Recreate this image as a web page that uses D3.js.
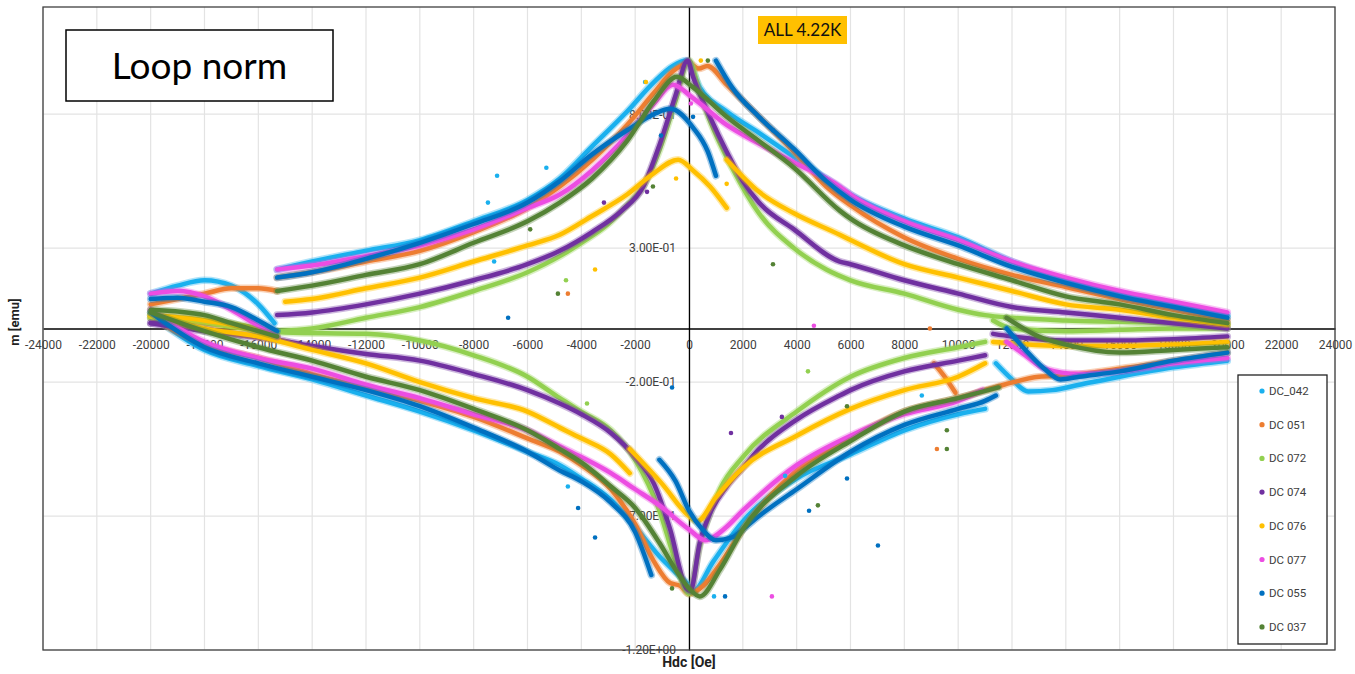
<!DOCTYPE html>
<html><head><meta charset="utf-8">
<script src="https://cdn.jsdelivr.net/npm/d3@7"></script>
<style>body{margin:0;background:#fff}svg{display:block}</style>
</head><body>
<svg id="chart" width="1355" height="674"></svg>
<script>
// ---------- data ----------
const xTickValues = [-24000,-22000,-20000,-18000,-16000,-14000,-12000,-10000,-8000,-6000,-4000,-2000,0,2000,4000,6000,8000,10000,12000,14000,16000,18000,20000,22000,24000];
const xTickLabels = ["-24000","-22000","-20000","-18000","-16000","-14000","-12000","-10000","-8000","-6000","-4000","-2000","0","2000","4000","6000","8000","10000","12000","14000","16000","18000","20000","22000","24000"];
const yTickValues = [0.8, 0.3, -0.2, -0.7, -1.2];
const yTickLabels = ["8.00E-01","3.00E-01","-2.00E-01","-7.00E-01","-1.20E+00"];
const seriesNames = ["DC_042","DC 051","DC 072","DC 074","DC 076","DC 077","DC 055","DC 037"];

// each series: list of measured segments, [Hdc (Oe), m (emu)]
const DC_042 = [
  [[-20000,0.13],[-19000,0.16],[-18000,0.18],[-17000,0.16],[-16000,0.09],[-15400,0.02]],
  [[-15300,0.22],[-14000,0.25],[-12000,0.29],[-10000,0.33],[-8000,0.40],[-6000,0.48],[-4800,0.56],[-3600,0.68],[-2300,0.81],[-1300,0.92],[-600,0.98],[-100,1.0],[400,0.90],[1400,0.81],[2600,0.73],[3900,0.64],[5100,0.56],[6000,0.50],[8000,0.41],[10000,0.34],[12000,0.25],[14000,0.18],[16000,0.13],[18000,0.09],[20000,0.05]],
  [[-20000,0.05],[-18000,-0.08],[-16000,-0.14],[-14000,-0.19],[-12000,-0.25],[-10000,-0.31],[-8000,-0.38],[-6000,-0.46],[-4800,-0.51],[-4000,-0.56],[-2900,-0.64],[-2000,-0.74],[-1100,-0.85],[-500,-0.91],[0,-0.96],[150,-0.98],[900,-0.87],[2000,-0.72],[4000,-0.56],[6000,-0.47],[8000,-0.38],[10000,-0.32],[11000,-0.30]],
  [[11400,-0.13],[12000,-0.19],[12600,-0.235],[13500,-0.23],[14500,-0.21],[16000,-0.18],[18000,-0.145],[20000,-0.12]]
];
const DC_051 = [
  [[-20000,0.09],[-19000,0.11],[-18000,0.13],[-17000,0.15],[-16000,0.15],[-15300,0.14]],
  [[-15300,0.19],[-14000,0.21],[-12000,0.25],[-10000,0.29],[-8000,0.36],[-6000,0.45],[-4800,0.53],[-3600,0.63],[-2300,0.76],[-1300,0.88],[-600,0.96],[0,0.99],[370,0.97],[680,0.98],[1400,0.91],[2600,0.79],[3900,0.66],[5100,0.53],[6000,0.46],[8000,0.34],[10000,0.26],[12000,0.20],[14000,0.155],[16000,0.11],[18000,0.07],[20000,0.03]],
  [[-20000,0.04],[-18000,-0.06],[-16000,-0.11],[-14000,-0.17],[-12000,-0.22],[-10000,-0.27],[-8000,-0.33],[-6000,-0.41],[-4800,-0.46],[-4000,-0.51],[-2900,-0.60],[-2000,-0.73],[-1300,-0.87],[-700,-0.95],[-330,-0.96],[0,-0.99],[530,-0.96],[1150,-0.88],[2000,-0.75],[4000,-0.53],[6000,-0.41],[8000,-0.31],[10000,-0.26],[11700,-0.21],[13000,-0.18],[14000,-0.175],[16000,-0.15],[18000,-0.12],[20000,-0.09]],
  [[9100,-0.13],[9500,-0.18],[9900,-0.24]]
];
const DC_072 = [
  [[-20000,0.04],[-18000,0.03],[-16500,0.01],[-15400,-0.01]],
  [[-15400,-0.01],[-14000,0.0],[-12000,0.04],[-10000,0.08],[-8000,0.14],[-6000,0.21],[-4800,0.27],[-4000,0.32],[-3000,0.39],[-2300,0.46],[-1700,0.53],[-1080,0.67],[-500,0.85],[0,1.0],[400,0.88],[800,0.77],[1600,0.60],[2600,0.43],[3900,0.30],[5100,0.22],[6000,0.18],[8000,0.13],[10000,0.07],[11000,0.05],[12000,0.04],[14000,0.03],[16000,0.025],[18000,0.02],[20000,0.01]],
  [[-20000,0.04],[-18000,0.02],[-16500,0.0],[-15000,-0.015],[-12000,-0.02],[-10000,-0.045],[-8000,-0.10],[-6000,-0.18],[-4800,-0.26],[-4000,-0.31],[-2900,-0.38],[-2000,-0.49],[-1100,-0.68],[-500,-0.87],[0,-0.99],[400,-0.81],[1150,-0.60],[2000,-0.48],[4000,-0.31],[6000,-0.18],[8000,-0.11],[10000,-0.07],[11000,-0.05]],
  [[11300,0.03],[12000,0.0],[14000,-0.01],[16000,-0.005],[18000,0.0],[20000,0.0]]
];
const DC_074 = [
  [[-20000,0.02],[-18000,0.0],[-17000,-0.02],[-15400,-0.04]],
  [[-15300,0.05],[-14000,0.06],[-12000,0.09],[-10000,0.13],[-8000,0.18],[-6000,0.24],[-4800,0.29],[-3600,0.36],[-2500,0.44],[-1700,0.53],[-1080,0.69],[-500,0.87],[-50,1.0],[150,0.94],[780,0.79],[1400,0.66],[2000,0.55],[2600,0.47],[3900,0.37],[5600,0.25],[6000,0.24],[8000,0.18],[10000,0.13],[12000,0.08],[14000,0.06],[16000,0.04],[18000,0.02],[20000,0.0]],
  [[-20000,0.02],[-18000,-0.01],[-16000,-0.03],[-14000,-0.065],[-12000,-0.095],[-10000,-0.12],[-8000,-0.17],[-6000,-0.23],[-4800,-0.28],[-4000,-0.32],[-2900,-0.39],[-2000,-0.48],[-1300,-0.58],[-700,-0.75],[-100,-0.97],[50,-0.98],[400,-0.80],[780,-0.69],[1400,-0.59],[2000,-0.52],[2600,-0.45],[4000,-0.34],[5600,-0.25],[6000,-0.23],[8000,-0.16],[10000,-0.12],[11000,-0.10]],
  [[11300,-0.02],[12000,-0.03],[14000,-0.045],[16000,-0.045],[18000,-0.04],[20000,-0.03]]
];
const DC_076 = [
  [[-20000,0.05],[-18000,0.03],[-16000,-0.01],[-15300,-0.04]],
  [[-15000,0.10],[-14000,0.11],[-12000,0.15],[-10000,0.19],[-8000,0.25],[-6000,0.31],[-4800,0.35],[-3600,0.42],[-2300,0.50],[-1300,0.58],[-400,0.63],[150,0.59],[780,0.53],[1400,0.45]],
  [[1400,0.63],[2600,0.51],[3900,0.43],[5600,0.35],[6000,0.33],[8000,0.24],[10000,0.19],[12000,0.14],[14000,0.09],[16000,0.07],[18000,0.04],[20000,0.015]],
  [[-20000,0.05],[-18000,0.0],[-16000,-0.03],[-14000,-0.08],[-12000,-0.13],[-10000,-0.20],[-8000,-0.26],[-6000,-0.31],[-4800,-0.37],[-4000,-0.41],[-2900,-0.47],[-2200,-0.54]],
  [[-2200,-0.45],[-1000,-0.58],[0,-0.70],[300,-0.72],[1000,-0.63],[2000,-0.52],[4000,-0.40],[6000,-0.30],[8000,-0.23],[10000,-0.18],[11000,-0.13]],
  [[11300,-0.05],[12000,-0.055],[14000,-0.065],[16000,-0.065],[18000,-0.06],[20000,-0.05]]
];
const DC_077 = [
  [[-20000,0.13],[-19000,0.14],[-18000,0.12],[-17000,0.07],[-16000,0.01],[-15300,-0.03]],
  [[-15300,0.22],[-14000,0.235],[-12000,0.27],[-10000,0.31],[-8000,0.37],[-6000,0.45],[-4800,0.50],[-3600,0.59],[-2300,0.72],[-1300,0.84],[-600,0.91],[150,0.86],[1400,0.76],[2600,0.69],[3900,0.62],[5600,0.53],[6000,0.50],[8000,0.40],[10000,0.33],[12000,0.25],[14000,0.19],[16000,0.14],[18000,0.10],[20000,0.06]],
  [[-20000,0.07],[-18000,-0.05],[-16000,-0.11],[-14000,-0.15],[-12000,-0.21],[-10000,-0.26],[-8000,-0.32],[-6000,-0.38],[-4800,-0.44],[-4000,-0.48],[-2900,-0.54],[-2000,-0.60],[-1100,-0.66],[0,-0.75],[600,-0.79],[1400,-0.74],[2000,-0.68],[4000,-0.51],[6000,-0.40],[8000,-0.32],[10000,-0.27],[10900,-0.23]],
  [[11800,-0.05],[12500,-0.10],[13200,-0.15],[14500,-0.17],[16000,-0.16],[18000,-0.13],[20000,-0.11]]
];
const DC_055 = [
  [[-20000,0.11],[-19000,0.115],[-18000,0.10],[-17000,0.08],[-16000,0.03],[-15300,-0.01]],
  [[-15300,0.19],[-14000,0.21],[-12000,0.26],[-10000,0.32],[-8000,0.39],[-6000,0.47],[-4800,0.55],[-3600,0.65],[-2300,0.74],[-1300,0.80],[-700,0.82],[150,0.75],[700,0.66],[1000,0.57]],
  [[1000,1.0],[1600,0.90],[2600,0.79],[3900,0.67],[5100,0.55],[6000,0.48],[8000,0.38],[10000,0.31],[12000,0.23],[14000,0.17],[16000,0.12],[18000,0.08],[20000,0.04]],
  [[-20000,0.06],[-18000,-0.07],[-16000,-0.13],[-14000,-0.18],[-12000,-0.23],[-10000,-0.29],[-8000,-0.37],[-6000,-0.46],[-4800,-0.53],[-4000,-0.57],[-2900,-0.65],[-2000,-0.76],[-1400,-0.92]],
  [[-1100,-0.49],[-500,-0.57],[0,-0.68],[500,-0.75],[1000,-0.79],[1600,-0.78],[2000,-0.75],[2600,-0.70],[4000,-0.60],[6000,-0.46],[8000,-0.36],[10000,-0.30],[11000,-0.27],[11400,-0.25]],
  [[11800,0.0],[12500,-0.08],[13200,-0.15],[13800,-0.19],[14500,-0.18],[16000,-0.16],[18000,-0.12],[20000,-0.09]]
];
const DC_037 = [
  [[-20000,0.07],[-18000,0.05],[-17000,0.02],[-16000,-0.01],[-15300,-0.03]],
  [[-15300,0.14],[-14000,0.16],[-12000,0.20],[-10000,0.24],[-8000,0.32],[-6000,0.40],[-4800,0.47],[-3600,0.56],[-2300,0.70],[-1300,0.85],[-450,0.94],[150,0.90],[1400,0.79],[2600,0.70],[3900,0.60],[5600,0.44],[6000,0.41],[8000,0.31],[10000,0.24],[12000,0.18],[14000,0.12],[16000,0.09],[18000,0.05],[20000,0.02]],
  [[-20000,0.06],[-18000,-0.01],[-16000,-0.07],[-14000,-0.12],[-12000,-0.18],[-10000,-0.23],[-8000,-0.30],[-6000,-0.38],[-4800,-0.45],[-4000,-0.50],[-2900,-0.59],[-2000,-0.67],[-1100,-0.80],[-500,-0.90],[0,-0.97],[400,-1.0],[1150,-0.90],[2000,-0.75],[4000,-0.55],[6000,-0.42],[8000,-0.31],[10000,-0.26],[11500,-0.22]],
  [[11800,0.04],[13000,-0.03],[14000,-0.06],[16000,-0.09],[18000,-0.08],[20000,-0.07]]
];
// stray single points: [series index, Hdc, m]
const outliers = [
  [0,-5300,0.60],[0,-7130,0.57],[0,-7470,0.47],[0,-7240,0.25],[0,-1630,0.92],[0,930,-1.0],[0,3570,-0.55],[0,8650,-0.25],[0,-4500,-0.59],
  [1,-4500,0.13],[1,8950,0.0],[1,9210,-0.45],
  [2,-4570,0.18],[2,4420,-0.16],[2,-3790,-0.28],
  [3,-3160,0.47],[3,-1560,0.51],[3,1560,-0.39],[3,3450,-0.33],
  [4,-1600,0.92],[4,-480,0.56],[4,-3490,0.22],[4,1400,0.54],[4,440,1.0],
  [5,4640,0.01],[5,3080,-1.0],[5,70,0.84],
  [6,-6720,0.04],[6,150,0.79],[6,3120,0.74],[6,5870,-0.56],[6,4460,-0.68],[6,7020,-0.81],[6,1340,-1.0],[6,-630,-0.22],[6,-4120,-0.67],[6,-3490,-0.78],[6,-1040,0.72],
  [7,-4870,0.13],[7,3120,0.24],[7,5870,-0.29],[7,4790,-0.66],[7,9580,-0.45],[7,9580,-0.38],[7,-630,-0.97],[7,-1340,0.53],[7,-5900,0.37],[7,700,1.0]
];
const allSeries = [DC_042, DC_051, DC_072, DC_074, DC_076, DC_077, DC_055, DC_037];
const seriesColors = ["#1AB0EE","#ED7D31","#92D050","#7030A0","#FFC000","#EC4DE2","#0070C0","#548235"];

// ---------- drawing ----------
const svg = d3.select("#chart");
const x = d3.scaleLinear().domain([-24000, 24000]).range([43, 1335]);
const y = d3.scaleLinear().domain([-1.2, 1.2]).range([650, 7]);

svg.append("rect").attr("width",1355).attr("height",674).attr("fill","#fff");

// gridlines
svg.append("g").selectAll("line").data(xTickValues).join("line")
  .attr("x1",d=>x(d)).attr("x2",d=>x(d)).attr("y1",y(1.2)).attr("y2",y(-1.2))
  .attr("stroke","#e3e3e3").attr("stroke-width",1.2);
svg.append("g").selectAll("line").data(yTickValues).join("line")
  .attr("x1",x(-24000)).attr("x2",x(24000)).attr("y1",d=>y(d)).attr("y2",d=>y(d))
  .attr("stroke","#e3e3e3").attr("stroke-width",1.2);

// axes crossing at zero
const xAxis = d3.axisBottom(x).tickValues(xTickValues).tickFormat((d,i)=>xTickLabels[i]).tickSize(0).tickPadding(12);
const gx = svg.append("g").attr("transform",`translate(0,${y(0)})`).call(xAxis);
gx.select(".domain").attr("stroke","#000").attr("stroke-width",1.3);
gx.selectAll("text").attr("font-family","Roboto,Arial,sans-serif").attr("font-size",12).attr("fill","#404040");

const yAxis = d3.axisLeft(y).tickValues(yTickValues).tickFormat((d,i)=>yTickLabels[i]).tickSize(0).tickPadding(13);
const gy = svg.append("g").attr("transform",`translate(${x(0)},0)`).call(yAxis);
gy.select(".domain").attr("stroke","#000").attr("stroke-width",1.3);
gy.selectAll("text").attr("font-family","Roboto,Arial,sans-serif").attr("font-size",12).attr("fill","#404040");

// series
svg.append("clipPath").attr("id","plotclip").append("rect")
  .attr("x",x(-24000)).attr("y",y(1.2)).attr("width",x(24000)-x(-24000)).attr("height",y(-1.2)-y(1.2));
const line = d3.line().x(d=>x(d[0])).y(d=>y(d[1])).curve(d3.curveMonotoneX);
const plot = svg.append("g").attr("clip-path","url(#plotclip)");
allSeries.forEach((segs, si) => {
  const sg = plot.append("g");
  sg.selectAll("path.halo").data(segs).join("path").attr("class","halo")
    .attr("d", line).attr("fill","none").attr("stroke", seriesColors[si])
    .attr("stroke-width",7.5).attr("stroke-opacity",0.35).attr("stroke-linejoin","round").attr("stroke-linecap","round");
  sg.selectAll("path.core").data(segs).join("path").attr("class","core")
    .attr("d", line).attr("fill","none").attr("stroke", seriesColors[si])
    .attr("stroke-width",4.5).attr("stroke-linejoin","round").attr("stroke-linecap","round");
});
plot.append("g").selectAll("circle").data(outliers).join("circle")
  .attr("cx",d=>x(d[1])).attr("cy",d=>y(d[2])).attr("r",2.3).attr("fill",d=>seriesColors[d[0]]);

// plot border
svg.append("rect").attr("x",x(-24000)).attr("y",y(1.2)).attr("width",x(24000)-x(-24000)).attr("height",y(-1.2)-y(1.2))
  .attr("fill","none").attr("stroke","#404040").attr("stroke-width",1.3);

// axis titles
svg.append("text").attr("x",689).attr("y",667).attr("text-anchor","middle")
  .attr("font-family","Roboto,Arial,sans-serif").attr("font-weight","bold").attr("font-size",14).attr("fill","#222").text("Hdc [Oe]");
svg.append("text").attr("transform","translate(19,322) rotate(-90)").attr("text-anchor","middle")
  .attr("font-family","Roboto,Arial,sans-serif").attr("font-weight","bold").attr("font-size",13).attr("fill","#222").text("m [emu]");

// title box
svg.append("rect").attr("x",66).attr("y",30).attr("width",267).attr("height",71).attr("fill","#fff").attr("stroke","#000").attr("stroke-width",1.5);
svg.append("text").attr("x",199.5).attr("y",79).attr("text-anchor","middle").attr("font-family","Lato,'Open Sans',sans-serif").attr("font-size",37).attr("fill","#000").text("Loop norm");

// ALL 4.22K tag
svg.append("rect").attr("x",758).attr("y",16).attr("width",89).attr("height",28).attr("fill","#FFC000");
svg.append("text").attr("x",802.5).attr("y",36).attr("text-anchor","middle").attr("font-family","Lato,'Open Sans',sans-serif").attr("font-size",17).attr("fill","#111").text("ALL 4.22K");

// legend
const lg = svg.append("g");
lg.append("rect").attr("x",1238).attr("y",375).attr("width",89).attr("height",269).attr("fill","#fff").attr("stroke","#222").attr("stroke-width",1.3);
const items = lg.selectAll("g.item").data(seriesNames).join("g").attr("transform",(d,i)=>`translate(1262,${391 + i*33.7})`);
items.append("circle").attr("r",2.6).attr("fill",(d,i)=>seriesColors[i]);
items.append("text").attr("x",7).attr("dy","0.35em").attr("font-family","Roboto,Arial,sans-serif").attr("font-size",11.5).attr("fill","#404040").text(d=>d);
</script></body></html>
